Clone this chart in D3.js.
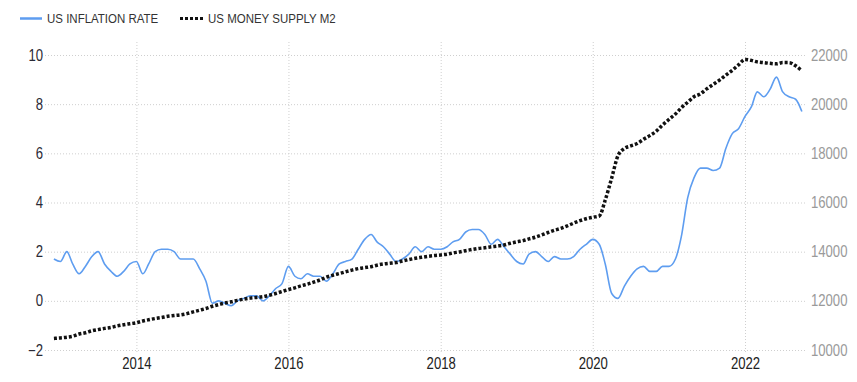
<!DOCTYPE html>
<html><head><meta charset="utf-8">
<script src="https://cdn.jsdelivr.net/npm/d3@7"></script>
<style>body{margin:0;background:#fff}svg{display:block}</style>
</head><body>
<svg id="chart" width="857" height="382"></svg>
<script>
// Monthly values, Dec 2012 .. Oct 2022
const firstMonth = [2012, 11]; // year, month index (0 = Jan)
const inflation = [
  1.7,
  1.6,2.0,1.5,1.1,1.4,1.8,2.0,1.5,1.2,1.0,1.2,1.5,
  1.6,1.1,1.5,2.0,2.1,2.1,2.0,1.7,1.7,1.7,1.3,0.8,
  -0.1,0.0,-0.1,-0.2,0.0,0.1,0.2,0.2,0.0,0.2,0.5,0.7,
  1.4,1.0,0.9,1.1,1.0,1.0,0.8,1.1,1.5,1.6,1.7,2.1,
  2.5,2.7,2.4,2.2,1.9,1.6,1.7,1.9,2.2,2.0,2.2,2.1,
  2.1,2.2,2.4,2.5,2.8,2.9,2.9,2.7,2.3,2.5,2.2,1.9,
  1.6,1.5,1.9,2.0,1.8,1.6,1.8,1.7,1.7,1.8,2.1,2.3,
  2.5,2.3,1.5,0.3,0.1,0.6,1.0,1.3,1.4,1.2,1.2,1.4,
  1.4,1.7,2.6,4.2,5.0,5.4,5.4,5.3,5.4,6.2,6.8,7.0,
  7.5,7.9,8.5,8.3,8.6,9.1,8.5,8.3,8.2,7.7
];
const moneySupplyM2 = [
  10470,
  10490,10520,10560,10650,10700,10780,10830,10880,10920,10980,11030,11070,
  11110,11180,11230,11280,11320,11370,11400,11430,11480,11550,11620,11690,
  11780,11850,11910,11960,12020,12070,12110,12140,12170,12230,12300,12380,
  12460,12530,12610,12680,12760,12850,12960,13040,13110,13180,13250,13310,
  13350,13390,13450,13500,13530,13560,13620,13680,13730,13770,13810,13840,
  13865,13900,13950,13990,14040,14090,14130,14160,14200,14230,14270,14340,
  14400,14450,14520,14590,14680,14780,14870,14950,15050,15160,15260,15340,
  15400,15450,16100,17000,17900,18200,18300,18400,18570,18720,18900,19150,
  19380,19600,19850,20080,20300,20420,20620,20800,20980,21180,21380,21600,
  21820,21780,21720,21690,21660,21640,21690,21690,21560,21360
];
const leftTicks = [-2, 0, 2, 4, 6, 8, 10];
const rightTicks = [10000, 12000, 14000, 16000, 18000, 20000, 22000];
const yearTicks = [2014, 2016, 2018, 2020, 2022];
const seriesNames = ["US INFLATION RATE", "US MONEY SUPPLY M2"];

const BLUE = "#5e9df0";
const FONT = "'Liberation Sans',Arial,sans-serif";

function narrow(sel, k) {
  sel.each(function () {
    const t = d3.select(this);
    const x0 = +t.attr("x") || 0;
    t.attr("x", x0 / k).attr("transform", `scale(${k},1)`);
  });
}

const svg = d3.select("#chart");
const plotL = 45, plotR = 807, plotTop = 42, plotBottom = 352;

const dates = inflation.map((d, i) => new Date(firstMonth[0], firstMonth[1] + i, 1));
const x = d3.scaleTime()
  .domain([new Date(2014, 0, 1), new Date(2022, 0, 1)])
  .range([136.4, 745]);
const yL = d3.scaleLinear().domain([-2, 10]).range([350, 55]);
const yR = d3.scaleLinear().domain([10000, 22000]).range([350, 55]);

// vertical gridlines + bottom labels
const xAxis = svg.append("g")
  .attr("transform", `translate(0,${plotBottom})`)
  .call(d3.axisBottom(x)
    .tickValues(yearTicks.map(y => new Date(y, 0, 1)))
    .tickFormat(d3.timeFormat("%Y"))
    .tickSize(-(plotBottom - plotTop))
    .tickPadding(6));
xAxis.select(".domain").remove();
xAxis.selectAll("line").attr("stroke", "#cfcfcf").attr("stroke-dasharray", "1,2");
xAxis.selectAll("text").attr("font-family", FONT).attr("font-size", 16).attr("fill", "#222").call(narrow, 0.82);

// horizontal gridlines + left labels
const lAxis = svg.append("g")
  .attr("transform", `translate(${plotL},0)`)
  .call(d3.axisLeft(yL).tickValues(leftTicks).tickSize(-(plotR - plotL)).tickPadding(2));
lAxis.select(".domain").remove();
lAxis.selectAll("line").attr("stroke", "#cfcfcf").attr("stroke-dasharray", "1,2");
lAxis.selectAll("text").attr("font-family", FONT).attr("font-size", 16).attr("fill", "#2a2a35").call(narrow, 0.82);

// right labels
const rAxis = svg.append("g")
  .attr("transform", `translate(${plotR},0)`)
  .call(d3.axisRight(yR).tickValues(rightTicks).tickSize(0).tickPadding(4).tickFormat(d3.format("d")));
rAxis.select(".domain").remove();
rAxis.selectAll("text").attr("font-family", FONT).attr("font-size", 16).attr("fill", "#9a9a9a").call(narrow, 0.82);

// series
const lineInf = d3.line().x((d, i) => x(dates[i])).y(d => yL(d)).curve(d3.curveMonotoneX);
const lineM2 = d3.line().x((d, i) => x(dates[i])).y(d => yR(d)).curve(d3.curveMonotoneX);

svg.append("path").datum(inflation)
  .attr("d", lineInf).attr("fill", "none")
  .attr("stroke", BLUE).attr("stroke-width", 1.6);

svg.append("path").datum(moneySupplyM2)
  .attr("d", lineM2).attr("fill", "none")
  .attr("stroke", "#111").attr("stroke-width", 3.5)
  .attr("stroke-dasharray", "3,2");

// legend
const lg = svg.append("g");
lg.append("line").attr("x1", 20).attr("x2", 42).attr("y1", 18.5).attr("y2", 18.5)
  .attr("stroke", BLUE).attr("stroke-width", 2.5);
lg.append("text").attr("x", 47).attr("y", 23.5).text(seriesNames[0])
  .attr("font-family", FONT).attr("font-size", 12.5).attr("fill", "#333");
lg.append("line").attr("x1", 180).attr("x2", 204).attr("y1", 18.5).attr("y2", 18.5)
  .attr("stroke", "#111").attr("stroke-width", 3).attr("stroke-dasharray", "3,2");
lg.append("text").attr("x", 208).attr("y", 23.5).text(seriesNames[1])
  .attr("font-family", FONT).attr("font-size", 12.5).attr("fill", "#333");
lg.selectAll("text").call(narrow, 0.92);
</script>
</body></html>
